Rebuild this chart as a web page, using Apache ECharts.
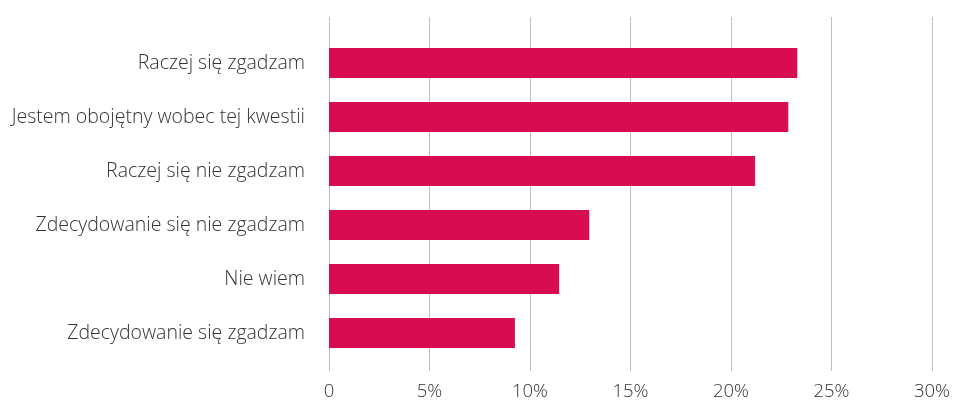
<!DOCTYPE html>
<html><head><meta charset="utf-8">
<script src="https://cdn.jsdelivr.net/npm/echarts@6/dist/echarts.min.js"></script>
<style>html,body{margin:0;padding:0;background:#fff}#c{width:958px;height:404px}</style>
</head><body><div id="c"></div>
<script>
const categories = ["Raczej się zgadzam","Jestem obojętny wobec tej kwestii","Raczej się nie zgadzam","Zdecydowanie się nie zgadzam","Nie wiem","Zdecydowanie się zgadzam"];
const values = [23.3, 22.85, 21.2, 12.95, 11.45, 9.25];
const tickMin = 0, tickMax = 30, tickStep = 5;

const chart = echarts.init(document.getElementById('c'), null, {renderer:'canvas'});
const font = '"Open Sans", sans-serif';
chart.setOption({
  animation: false,
  grid: [
    {left: 329, right: 26, top: 17, height: 354},
    {left: 329, right: 26, top: 36, height: 324}
  ],
  xAxis: [
    {gridIndex: 0, type: 'value', min: tickMin, max: tickMax, interval: tickStep,
     axisLine: {show: false}, axisTick: {show: false},
     splitLine: {show: true, lineStyle: {color: '#BFBFBF', width: 1}},
     axisLabel: {margin: 11, fontFamily: font, fontSize: 18.5, fontWeight: 300, color: '#333333',
       formatter: v => v === 0 ? '0' : v + '%'}},
    {gridIndex: 1, type: 'value', min: tickMin, max: tickMax, show: false, splitLine: {show: false}}
  ],
  yAxis: [
    {gridIndex: 0, type: 'category', data: categories, show: false},
    {gridIndex: 1, type: 'category', data: categories, inverse: true,
     axisLine: {show: false}, axisTick: {show: false},
     axisLabel: {margin: 24, fontFamily: font, fontSize: 19.5, fontWeight: 300, color: '#333333'}}
  ],
  series: [{
    type: 'bar', xAxisIndex: 1, yAxisIndex: 1, data: values, barWidth: 30,
    itemStyle: {color: '#D70C52'}
  }]
});
</script></body></html>
